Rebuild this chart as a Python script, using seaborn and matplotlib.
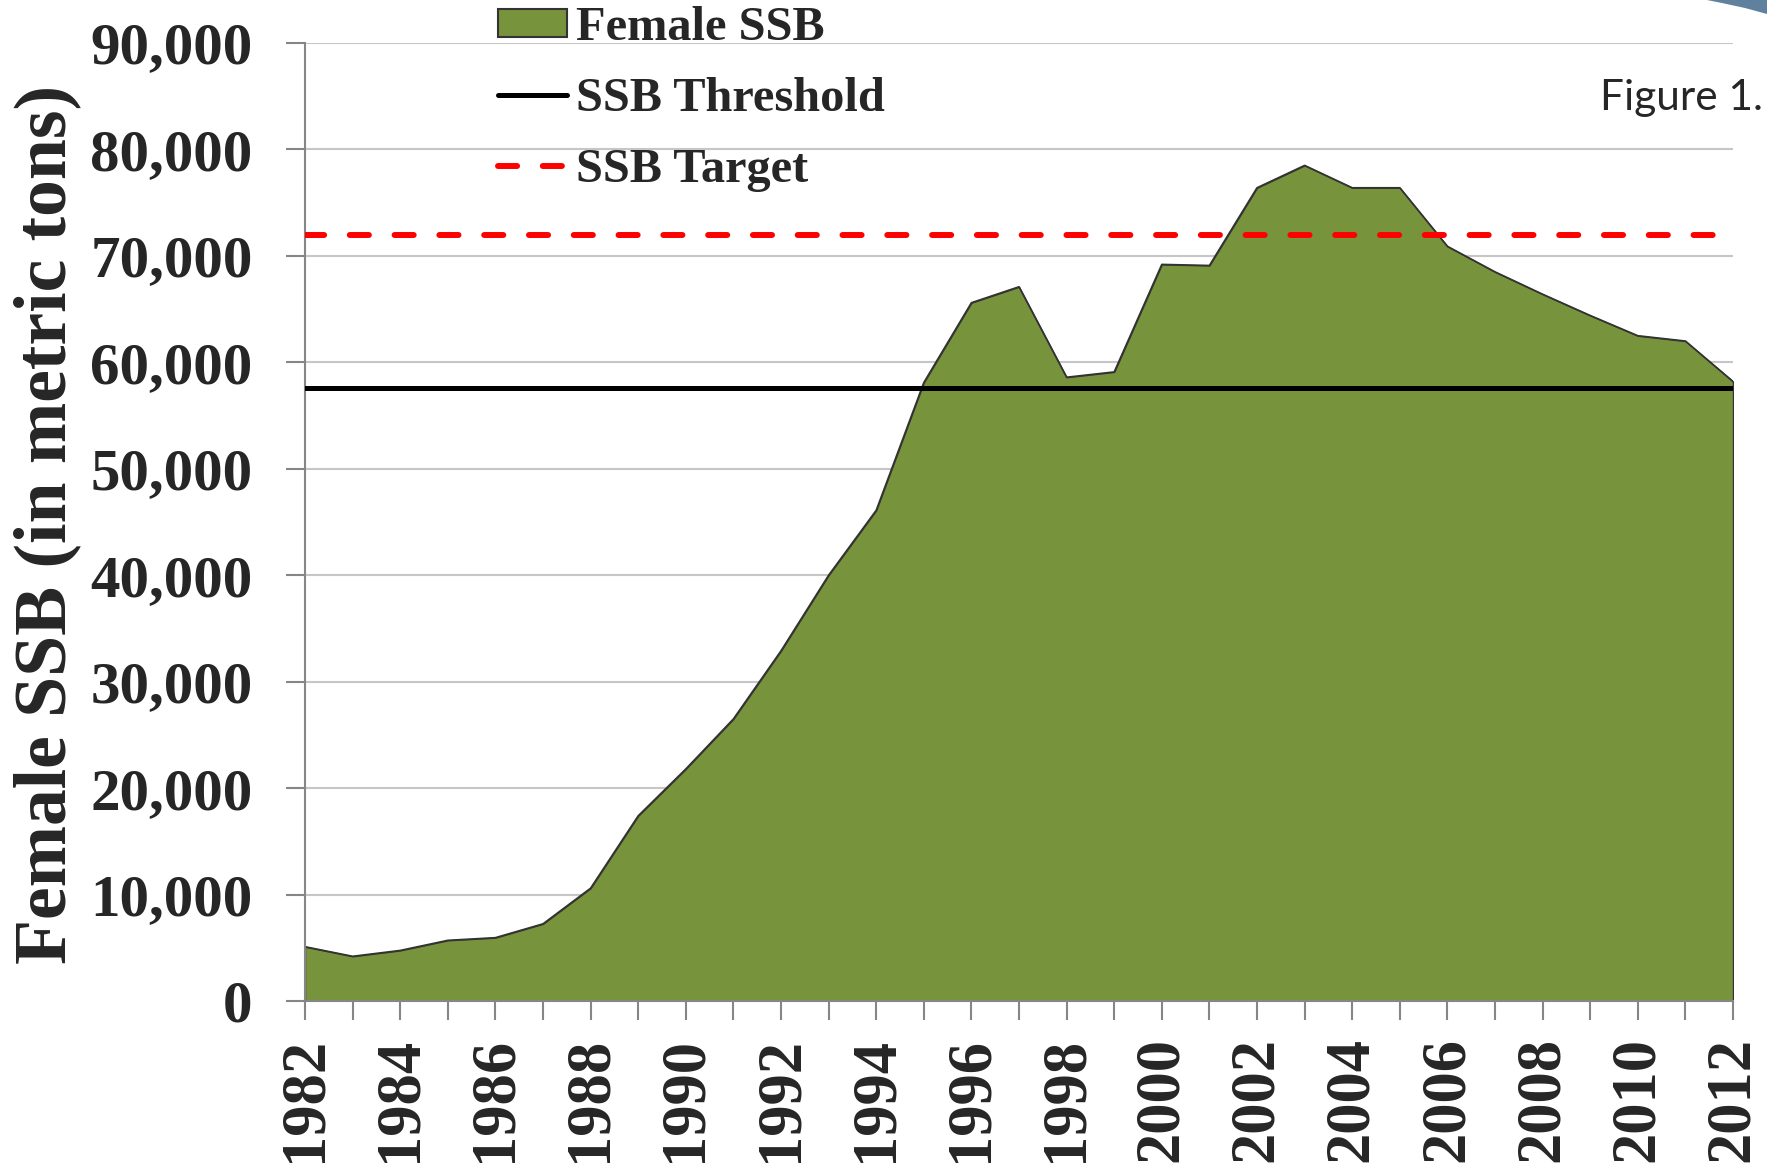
import matplotlib
matplotlib.use("Agg")
import matplotlib.pyplot as plt
import numpy as np
import pandas as pd
import seaborn as sns
from matplotlib.patches import Patch, Polygon
from matplotlib.lines import Line2D
from matplotlib.ticker import FuncFormatter

# ---------------- data ----------------
years = list(range(1982, 2013))
female_ssb = [5100, 4200, 4750, 5700, 5950, 7250, 10600, 17400, 21800, 26500,
              32900, 40000, 46100, 58100, 65600, 67100, 58600, 59100, 69200, 69100,
              76400, 78500, 76400, 76400, 70900, 68500, 66400, 64400, 62500, 62000,
              58200]
ssb_threshold = 57600
ssb_target = 72000
y_ticks = list(range(0, 90001, 10000))
x_label_years = years[::2]
series_labels = ["Female SSB", "SSB Threshold", "SSB Target"]
y_label = "Female SSB (in metric tons)"
side_note = "Figure 1."

# ---------------- style ----------------
sns.set_style("white")
plt.rcParams['font.family'] = ['Liberation Serif', 'DejaVu Serif']
plt.rcParams['font.weight'] = 'bold'

GREEN = "#77933C"
GRID = "#c6c6c6"
SPINE = "#868686"

W, H = 1767, 1168
fig = plt.figure(figsize=(W / 100, H / 100), dpi=100)
ax_l, ax_r, ax_t, ax_b = 305, 1733, 43, 1001
ax = fig.add_axes([ax_l / W, 1 - ax_b / H, (ax_r - ax_l) / W, (ax_b - ax_t) / H])

df = pd.DataFrame({"year": years, "ssb": female_ssb})

ax.fill_between(df["year"], 0, df["ssb"], facecolor=GREEN, edgecolor="#333333",
                linewidth=1.0, zorder=1)
sns.lineplot(data=df, x="year", y="ssb", ax=ax, color="#333333", linewidth=1.2,
             zorder=1.5, legend=False)

ax.axhline(ssb_threshold, color="black", linewidth=3.6, zorder=3)
ax.axhline(ssb_target, color="red", linewidth=4.3, linestyle=(0, (3.2, 4.3)),
           dash_capstyle="round", zorder=3)

ax.set_xlim(years[0], years[-1])
ax.set_ylim(y_ticks[0], y_ticks[-1])
ax.set_yticks(y_ticks)
ax.yaxis.set_major_formatter(FuncFormatter(lambda v, p: f"{int(v):,}"))
ax.set_xticks(years)
ax.set_xticklabels([str(y) if y in x_label_years else "" for y in years])

ax.yaxis.grid(True, color=GRID, linewidth=1.5)
ax.xaxis.grid(False)
ax.set_axisbelow(True)

for s in ["top", "right"]:
    ax.spines[s].set_visible(False)
for s in ["left", "bottom"]:
    ax.spines[s].set_color(SPINE)
    ax.spines[s].set_linewidth(1.5)

ax.tick_params(axis="y", which="both", left=True, length=13.7, width=1.5,
               color=SPINE, pad=24, labelsize=42.5)
ax.tick_params(axis="x", which="both", bottom=True, length=13.7, width=1.5,
               color=SPINE, pad=12, labelsize=45, labelrotation=90)
for lab in ax.get_xticklabels() + ax.get_yticklabels():
    lab.set_fontweight("bold")

ax.set_xlabel("")
ax.set_ylabel(y_label, fontsize=53, fontweight="bold")
ax.yaxis.set_label_coords(-0.157, 0.497)

handles = [
    Patch(facecolor=GREEN, edgecolor="#333333", linewidth=1.5),
    Line2D([], [], color="black", linewidth=3.6),
    Line2D([], [], color="red", linewidth=4.3, linestyle=(0, (3.2, 4.3)),
           dash_capstyle="round"),
]
fig.legend(handles, series_labels, loc="upper left",
           bbox_to_anchor=(498 / W, 1 - 6 / H), frameon=False,
           prop={"family": "Liberation Serif", "weight": "bold", "size": 34.8},
           handlelength=1.42, handleheight=0.53, handletextpad=0.2,
           labelspacing=0.56, borderpad=0, borderaxespad=0)

fig.text(1600 / W, 1 - 110 / H, side_note, fontsize=30.5, family="Lato",
         fontweight="normal", ha="left", va="baseline")

corner = Polygon([(1707 / W, 1.0), (1.0, 1.0), (1.0, 1 - 14 / H),
                  (1745 / W, 1 - 8 / H), (1722 / W, 1 - 3 / H)],
                 closed=True, transform=fig.transFigure, facecolor="#5f819e",
                 edgecolor="none")
fig.patches.append(corner)

fig.savefig("out.png", dpi=100)
